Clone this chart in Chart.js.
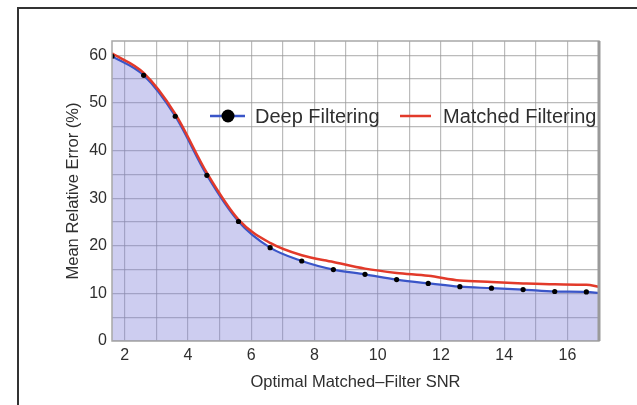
<!DOCTYPE html>
<html>
<head>
<meta charset="utf-8">
<script src="https://cdn.jsdelivr.net/npm/chart.js@4"></script>
<style>
  body { margin: 0; background: #fff; }
  #wrap { width: 637px; height: 405px; }
</style>
</head>
<body>
<div id="wrap"><canvas id="chart" width="637" height="405"></canvas></div>
<script>
// values
const snrValues = [1.6, 2.6, 3.6, 4.6, 5.6, 6.6, 7.6, 8.6, 9.6, 10.6, 11.6, 12.6, 13.6, 14.6, 15.6, 16.6, 17.0];
const deepError = [59.8, 55.8, 47.2, 34.8, 25.1, 19.6, 16.8, 15.0, 14.0, 12.9, 12.1, 11.4, 11.1, 10.8, 10.4, 10.3, 10.1];
const matchedError = [60.4, 56.3, 47.7, 35.3, 25.5, 20.6, 18.0, 16.6, 15.2, 14.3, 13.7, 12.7, 12.4, 12.1, 11.9, 11.8, 11.4];
const xTicks = [2, 3, 4, 5, 6, 7, 8, 9, 10, 11, 12, 13, 14, 15, 16, 17];
const yTicks = [0, 5, 10, 15, 20, 25, 30, 35, 40, 45, 50, 55, 60];
const seriesNames = ["Deep Filtering", "Matched Filtering"];

const FONT = "'Liberation Sans', Arial, sans-serif";
const TEXT = "#2f2f2f";

function toPoints(xs, ys) {
  return xs.map(function(x, i) { return { x: x, y: ys[i] }; });
}

// frame, plot border, axis titles and legend
const decorations = {
  id: 'decorations',
  beforeDraw: function(chart) {
    const ctx = chart.ctx;
    ctx.save();
    ctx.strokeStyle = '#333';
    ctx.lineWidth = 2;
    ctx.beginPath();
    ctx.moveTo(660, 8);
    ctx.lineTo(18, 8);
    ctx.lineTo(18, 420);
    ctx.stroke();
    ctx.restore();
  },
  afterDraw: function(chart) {
    const ctx = chart.ctx;
    const a = chart.chartArea;
    ctx.save();
    // plot border
    ctx.strokeStyle = '#a8a8a8';
    ctx.lineWidth = 1.5;
    ctx.strokeRect(a.left, a.top, a.right - a.left, a.bottom - a.top);
    ctx.strokeStyle = '#9a9a9a';
    ctx.lineWidth = 3;
    ctx.beginPath();
    ctx.moveTo(a.right, a.top);
    ctx.lineTo(a.right, a.bottom);
    ctx.stroke();

    // axis titles
    ctx.fillStyle = TEXT;
    ctx.font = '16.5px ' + FONT;
    ctx.textAlign = 'center';
    ctx.textBaseline = 'middle';
    ctx.fillText('Optimal Matched\u2013Filter SNR', (a.left + a.right) / 2, 382);
    ctx.translate(73, (a.top + a.bottom) / 2);
    ctx.rotate(-Math.PI / 2);
    ctx.fillText('Mean Relative Error (%)', 0, 0);
    ctx.restore();

    // legend inside the plot
    ctx.save();
    const ly = 116;
    ctx.lineWidth = 2.5;
    ctx.strokeStyle = '#3a55c8';
    ctx.beginPath();
    ctx.moveTo(210, ly);
    ctx.lineTo(245, ly);
    ctx.stroke();
    ctx.fillStyle = '#000';
    ctx.beginPath();
    ctx.arc(228, ly, 6.5, 0, Math.PI * 2);
    ctx.fill();
    ctx.strokeStyle = '#e23a2a';
    ctx.lineWidth = 2.5;
    ctx.beginPath();
    ctx.moveTo(400, ly);
    ctx.lineTo(431, ly);
    ctx.stroke();
    ctx.fillStyle = TEXT;
    ctx.font = '20px ' + FONT;
    ctx.textAlign = 'left';
    ctx.textBaseline = 'middle';
    ctx.fillText(seriesNames[0], 255, ly + 1);
    ctx.fillText(seriesNames[1], 443, ly + 1);
    ctx.restore();
  }
};

new Chart(document.getElementById('chart'), {
  type: 'scatter',
  data: {
    datasets: [
      {
        label: seriesNames[0] + ' markers',
        data: toPoints(snrValues.slice(0, 16), deepError.slice(0, 16)),
        showLine: false,
        pointRadius: 2.6,
        pointBackgroundColor: '#000',
        pointBorderWidth: 0,
        order: 0
      },
      {
        label: seriesNames[1],
        data: toPoints(snrValues, matchedError),
        showLine: true,
        borderColor: '#e23a2a',
        borderWidth: 2.5,
        pointRadius: 0,
        cubicInterpolationMode: 'monotone',
        fill: false,
        order: 1
      },
      {
        label: seriesNames[0],
        data: toPoints(snrValues, deepError),
        showLine: true,
        borderColor: '#3a55c8',
        borderWidth: 2.2,
        pointRadius: 0,
        cubicInterpolationMode: 'monotone',
        fill: 'origin',
        backgroundColor: 'rgba(120, 120, 215, 0.37)',
        order: 2
      }
    ]
  },
  options: {
    responsive: false,
    animation: false,
    layout: { padding: { left: 60, right: 38, top: 41, bottom: 0 } },
    plugins: {
      legend: { display: false },
      tooltip: { enabled: false }
    },
    scales: {
      x: {
        type: 'linear',
        min: 1.6,
        max: 17,
        afterBuildTicks: function(scale) {
          scale.ticks = xTicks.map(function(v) { return { value: v }; });
        },
        afterFit: function(scale) { scale.height = 64; },
        grid: { color: 'rgba(150,150,150,0.65)', lineWidth: 1.2, drawTicks: false },
        border: { display: false },
        ticks: {
          padding: 5,
          color: TEXT,
          font: { family: FONT, size: 16 },
          maxRotation: 0,
          autoSkip: false,
          callback: function(v) { return v % 2 === 0 ? v : ''; }
        }
      },
      y: {
        min: 0,
        max: 63,
        afterBuildTicks: function(scale) {
          scale.ticks = yTicks.map(function(v) { return { value: v }; });
        },
        afterFit: function(scale) { scale.width = 52; },
        grid: { color: 'rgba(150,150,150,0.65)', lineWidth: 1.2, drawTicks: false },
        border: { display: false },
        ticks: {
          padding: 5,
          color: TEXT,
          font: { family: FONT, size: 16 },
          autoSkip: false,
          callback: function(v) { return v % 10 === 0 ? v : ''; }
        }
      }
    }
  },
  plugins: [decorations]
});
</script>
</body>
</html>
